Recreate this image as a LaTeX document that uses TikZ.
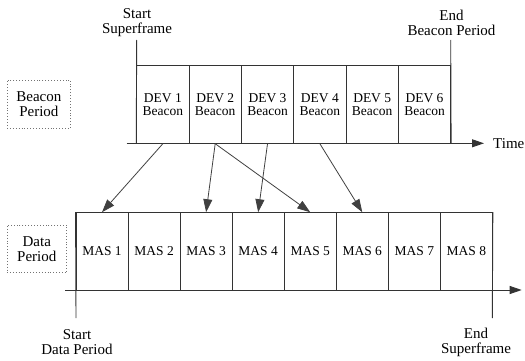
\documentclass[tikz,border=0pt]{standalone}
\usepackage{fontspec}
\setmainfont{Liberation Serif}
\usepackage{tikz}
\usetikzlibrary{arrows.meta}
\tikzstyle{slot}=[draw=black!80, line width=0.9pt, minimum height=77.5pt, inner sep=0pt, align=center, font=\fontsize{13.5}{13.5}\selectfont]
\tikzstyle{tag}=[align=center, inner sep=0pt, font=\fontsize{15}{15}\selectfont]
\tikzstyle{period}=[draw=black!55, dotted, line width=0.9pt, align=center, inner sep=0pt, font=\fontsize{15}{15}\selectfont]
\tikzstyle{line}=[draw=black!80, line width=0.9pt]
\tikzstyle{axis}=[line, -{Triangle[length=12pt,width=8pt]}]
\tikzstyle{map}=[draw=black!75, line width=0.8pt, -{Triangle[length=13pt,width=9pt]}]

\begin{document}
\begin{tikzpicture}[x=1pt, y=-1pt]
    \useasboundingbox (0,0) rectangle (525,361);
    % beacon period
    \foreach \i in {1,...,6}
      \node[slot, minimum width=52.33pt] (b\i) at ({136.7+52.33*(\i-0.5)},104.5) {DEV \i\\Beacon};
    % data period
    \foreach \i in {1,...,8}
      \node[slot, minimum width=52.05pt] (m\i) at ({76+52.05*(\i-0.5)},251.4) {MAS \i};
    \node[period, minimum width=63.7pt, minimum height=48pt] (bp) at (38.9,104) {Beacon\\Period};
    \node[period, minimum width=59.7pt, minimum height=47.7pt] (dp) at (36.8,248.8) {Data\\Period};
    \coordinate (t0) at (126.7,143.3);
    \coordinate (t1) at (484,143.3);
    \coordinate (d0) at (65,290);
    \coordinate (d1) at (521.7,290);
    \coordinate (ss) at (136.7,40);
    \coordinate (eb) at (450.7,40);
    \coordinate (sd) at (76,318);
    \coordinate (es) at (492.3,318);
    \draw[axis] (t0) -- (t1);
    \draw[axis] (d0) -- (d1);
    \draw[line] (ss) -- (b1.south west);
    \draw[line] (eb) -- (b6.south east);
    \draw[line] (sd) -- (m1.north west);
    \draw[line] (es) -- (m8.north east);
    \node[tag] (lss) at (137,22.5) {Start\\Superframe};
    \node[tag] (leb) at (451.5,22.5) {End\\Beacon Period};
    \node[tag, anchor=west] (time) at (493,143.3) {Time};
    \node[tag] (lsd) at (77,342.5) {Start\\Data Period};
    \node[tag] (les) at (476,342.5) {End\\Superframe};
    \foreach \from/\to in
      {b1/m1, b2/m3, b2/m5, b3/m4, b4/m6}
    \draw[map] (\from.south) -- (\to.north);
    \end{tikzpicture}
\end{document}
